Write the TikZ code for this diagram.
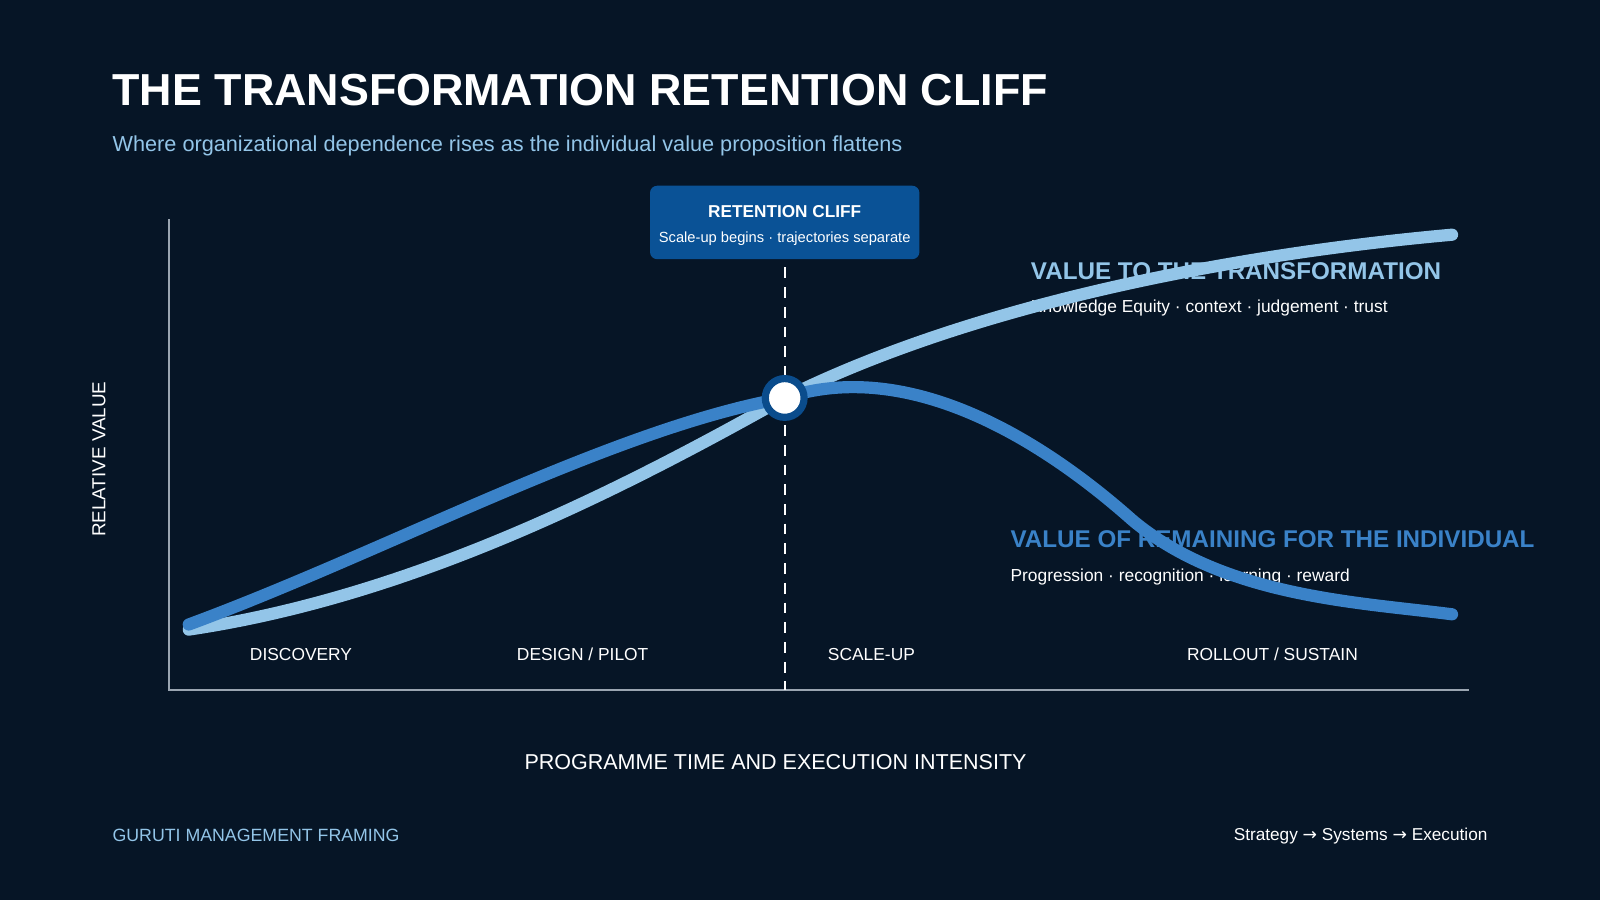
\documentclass[tikz,border=0pt]{standalone}
\usepackage{fontspec}
\setmainfont{Liberation Sans}
\newfontfamily\djv{DejaVu Sans}
\definecolor{bg}{HTML}{061526}
\definecolor{lite}{HTML}{93C5E8}
\definecolor{dark}{HTML}{3A82C8}
\definecolor{boxc}{HTML}{0A5296}
\definecolor{ring}{HTML}{0A4C8C}
\definecolor{axisc}{HTML}{9AA5B1}
\begin{document}
\begin{tikzpicture}[x=0.02cm,y=-0.02cm,
  fs/.style={font=\fontsize{#1}{#1}\selectfont},
  fb/.style={font=\fontsize{#1}{#1}\selectfont\bfseries},
  lbl/.style={anchor=west,inner sep=0pt},
  phase/.style={text=white,fs=9.7,inner sep=0pt},
  curve/.style={line width=6.8pt,line cap=round}]
\fill[bg] (0,0) rectangle (1568,882);
\useasboundingbox (0,0) rectangle (1568,882);
\node[lbl,text=white,fb=25] (title) at (110,88) {THE TRANSFORMATION RETENTION CLIFF};
\node[lbl,text=lite,fs=12.1] (sub) at (110,143) {Where organizational dependence rises as the individual value proposition flattens};
\coordinate (ytop) at (166,215);
\coordinate (orig) at (166,676);
\coordinate (xend) at (1440,676);
\draw[axisc,line width=1.1pt] (ytop) -- (orig) -- (xend);
\coordinate (dtop) at (769,262);
\coordinate (dbot) at (769,676);
\draw[white,line width=1.1pt,dash pattern=on 6pt off 5pt] (dtop) -- (dbot);
\node[fill=boxc,rounded corners=4pt,minimum width=264*0.02cm,minimum height=72*0.02cm] (box) at (769,218) {};
\node[text=white,fb=9.6] (bt) at (769,207) {RETENTION CLIFF};
\node[text=white,fs=8.2] (bs) at (769,234) {Scale-up begins · trajectories separate};
\node[lbl,text=lite,fb=13.5] (l1) at (1010,266) {VALUE TO THE TRANSFORMATION};
\node[lbl,text=white,fs=9.7] (l1s) at (1010,302) {Knowledge Equity · context · judgement · trust};
\node[lbl,text=dark,fb=13.5] (l2) at (990,528) {VALUE OF REMAINING FOR THE INDIVIDUAL};
\node[lbl,text=white,fs=9.7] (l2s) at (990,565) {Progression · recognition · learning · reward};
\draw[curve,lite] (185,617) .. controls (400,585) and (600,485) .. (769,390) .. controls (950,300) and (1200,250) .. (1423,230);
\draw[curve,dark] (185,612) .. controls (380,540) and (600,420) .. (769,390) .. controls (890,350) and (1020,430) .. (1110,510) .. controls (1200,585) and (1330,590) .. (1423,602);
\node[circle,fill=white,draw=ring,line width=4pt,minimum size=38*0.02cm,inner sep=0pt] (pt) at (769,390) {};
\node[phase] (p1) at (295,641) {DISCOVERY};
\node[phase] (p2) at (571,641) {DESIGN / PILOT};
\node[phase] (p3) at (854,641) {SCALE-UP};
\node[phase] (p4) at (1247,641) {ROLLOUT / SUSTAIN};
\node[text=white,fs=10.5,rotate=90,inner sep=0pt] (yl) at (97,450) {RELATIVE VALUE};
\node[text=white,fs=12,inner sep=0pt] (xl) at (760,747) {PROGRAMME TIME AND EXECUTION INTENSITY};
\node[lbl,text=lite,fs=9.9] (f1) at (110,819) {GURUTI MANAGEMENT FRAMING};
\node[anchor=east,inner sep=0pt,text=white,fs=9.6] (f2) at (1458,819) {Strategy {\djv →} Systems {\djv →} Execution};
\end{tikzpicture}
\end{document}
